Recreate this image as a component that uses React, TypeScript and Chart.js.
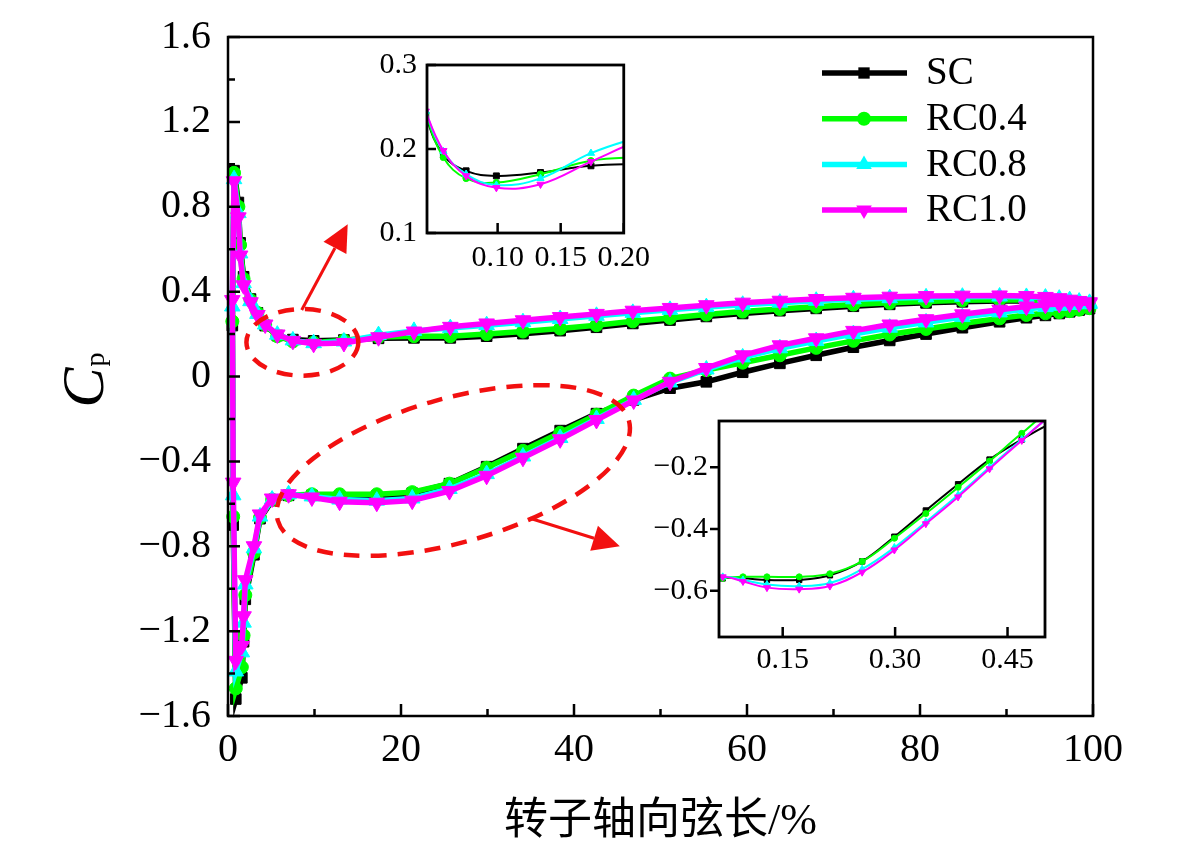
import React, { useEffect, useRef } from "react";
import { Chart, registerables } from "chart.js";

Chart.register(...registerables);

// ---------- data ----------
const seriesNames = ["SC", "RC0.4", "RC0.8", "RC1.0"];
const seriesColors = ["#000000", "#00ff00", "#00ffff", "#ff00ff"];
const pointStyles = ["rect", "circle", "triangle", "triangle"];
const pointRotations = [0, 0, 0, 180];

// chord position, % (pressure side, leading edge -> trailing edge)
const pressureX = [0.7, 1.2, 1.4, 1.8, 2.6, 3.4, 4.3, 5.7, 7.5, 9.9, 13.4, 17.4, 21.5, 25.7, 29.9, 34.1, 38.4, 42.6, 46.8, 51.1, 55.3, 59.5, 63.8, 68.0, 72.3, 76.5, 80.7, 84.9, 89.2, 92.3, 94.5, 96.1, 97.3, 98.4, 99.6];
// chord position, % (suction side, leading edge -> trailing edge)
const suctionX = [0.5, 0.6, 0.9, 1.6, 1.8, 2.0, 3.0, 3.7, 5.1, 7.0, 9.7, 12.9, 17.2, 21.3, 25.6, 29.9, 34.1, 38.4, 42.6, 46.9, 51.1, 55.3, 59.5, 63.8, 68.0, 72.3, 76.5, 80.7, 84.9, 89.2, 92.3, 94.5, 96.1, 97.3, 98.4, 99.6];

const scPressure = [0.97, 0.82, 0.63, 0.47, 0.365, 0.3, 0.24, 0.193, 0.174, 0.168, 0.172, 0.18, 0.182, 0.182, 0.19, 0.202, 0.216, 0.232, 0.25, 0.266, 0.283, 0.297, 0.31, 0.321, 0.331, 0.34, 0.347, 0.352, 0.356, 0.356, 0.353, 0.348, 0.342, 0.336, 0.33];
const rc04Pressure = [0.96, 0.8, 0.62, 0.46, 0.36, 0.3, 0.243, 0.19, 0.165, 0.16, 0.17, 0.186, 0.19, 0.19, 0.2, 0.212, 0.226, 0.242, 0.26, 0.276, 0.292, 0.306, 0.318, 0.329, 0.339, 0.347, 0.354, 0.359, 0.362, 0.361, 0.357, 0.351, 0.344, 0.337, 0.33];
const rc08Pressure = [0.93, 0.77, 0.58, 0.44, 0.355, 0.295, 0.245, 0.197, 0.17, 0.157, 0.165, 0.195, 0.215, 0.228, 0.242, 0.256, 0.271, 0.286, 0.3, 0.314, 0.327, 0.338, 0.348, 0.357, 0.364, 0.369, 0.373, 0.376, 0.377, 0.375, 0.372, 0.367, 0.36, 0.353, 0.347];
const rc10Pressure = [0.92, 0.75, 0.57, 0.43, 0.35, 0.29, 0.245, 0.198, 0.168, 0.154, 0.158, 0.185, 0.212, 0.234, 0.25, 0.265, 0.28, 0.295, 0.31, 0.323, 0.336, 0.348, 0.357, 0.365, 0.371, 0.376, 0.379, 0.381, 0.382, 0.379, 0.375, 0.369, 0.362, 0.356, 0.35];

const scSuction = [0.24, -0.7, -1.52, -1.42, -1.25, -1.05, -0.84, -0.67, -0.585, -0.56, -0.56, -0.565, -0.565, -0.55, -0.505, -0.425, -0.34, -0.255, -0.175, -0.11, -0.055, -0.025, 0.02, 0.062, 0.1, 0.138, 0.17, 0.2, 0.23, 0.258, 0.277, 0.288, 0.297, 0.305, 0.313, 0.32];
const rc04Suction = [0.26, -0.66, -1.47, -1.37, -1.22, -1.03, -0.83, -0.665, -0.58, -0.56, -0.555, -0.555, -0.555, -0.545, -0.505, -0.43, -0.35, -0.265, -0.18, -0.09, -0.01, 0.03, 0.065, 0.1, 0.135, 0.168, 0.198, 0.224, 0.25, 0.274, 0.29, 0.298, 0.303, 0.308, 0.315, 0.322];
const rc08Suction = [0.33, -0.56, -1.39, -1.3, -1.16, -0.98, -0.81, -0.66, -0.58, -0.555, -0.565, -0.58, -0.585, -0.575, -0.53, -0.46, -0.377, -0.29, -0.2, -0.11, -0.028, 0.033, 0.09, 0.133, 0.167, 0.2, 0.23, 0.255, 0.28, 0.302, 0.318, 0.327, 0.333, 0.337, 0.34, 0.342];
const rc10Suction = [0.36, -0.5, -1.34, -1.27, -1.13, -0.96, -0.8, -0.65, -0.575, -0.555, -0.57, -0.59, -0.595, -0.585, -0.54, -0.468, -0.383, -0.296, -0.205, -0.113, -0.025, 0.04, 0.1, 0.147, 0.18, 0.215, 0.245, 0.27, 0.293, 0.315, 0.33, 0.338, 0.342, 0.344, 0.345, 0.345];

const pressureCp = [scPressure, rc04Pressure, rc08Pressure, rc10Pressure];
const suctionCp = [scSuction, rc04Suction, rc08Suction, rc10Suction];

// axes
const mainXRange = [0, 100];
const mainYRange = [-1.6, 1.6];
const mainXTicks = [0, 20, 40, 60, 80, 100];
const mainYTicks = [-1.6, -1.2, -0.8, -0.4, 0, 0.4, 0.8, 1.2, 1.6];
const upperInsetXRange = [0.044, 0.2];
const upperInsetYRange = [0.1, 0.3];
const upperInsetXTicks = [0.1, 0.15, 0.2];
const upperInsetYTicks = [0.1, 0.2, 0.3];
const lowerInsetXRange = [0.065, 0.5];
const lowerInsetYRange = [-0.75, -0.05];
const lowerInsetXTicks = [0.15, 0.3, 0.45];
const lowerInsetYTicks = [-0.6, -0.4, -0.2];

// highlighted regions (data units) and arrows pointing to the insets
const upperZoomEllipse = { cx: 8.6, cy: 0.161, rx: 6.47, ry: 0.157, tilt: 0 };
const lowerZoomEllipse = { cx: 26.05, cy: -0.443, rx: 21.1, ry: 0.339, tilt: -15.9 };
const upperArrow = { x1: 8.52, y1: 0.3135, x2: 13.84, y2: 0.718 };
const lowerArrow = { x1: 34.9, y1: -0.668, x2: 45.3, y2: -0.8 };

const xTitle = "转子轴向弦长/%";

// ---------- helpers ----------
const SERIF = '"Liberation Serif", "Times New Roman", serif';

function fmt(v: number, d: number) {
  if (Math.abs(v) < 1e-9) return "0";
  return (v < 0 ? "\u2212" : "") + Math.abs(v).toFixed(d);
}

function loopPoints(i: number, unit: number) {
  const pts: { x: number; y: number }[] = [];
  for (let k = pressureX.length - 1; k >= 0; k--) pts.push({ x: pressureX[k] / unit, y: pressureCp[i][k] });
  for (let k = 0; k < suctionX.length; k++) pts.push({ x: suctionX[k] / unit, y: suctionCp[i][k] });
  return pts;
}

function drawFrameAndTicks(chart: any, o: any) {
  const { ctx, chartArea: a, scales } = chart;
  const xs = scales.x;
  const ys = scales.y;
  ctx.save();
  ctx.strokeStyle = "#000";
  ctx.lineWidth = o.tickWidth;
  ctx.setLineDash([]);
  ctx.beginPath();
  const xv = xs.ticks.map((t: any) => t.value);
  xv.forEach((v: number, i: number) => {
    const p = xs.getPixelForValue(v);
    ctx.moveTo(p, a.bottom);
    ctx.lineTo(p, a.bottom - o.xMajor);
    if (o.minor && i < xv.length - 1) {
      const q = xs.getPixelForValue((v + xv[i + 1]) / 2);
      ctx.moveTo(q, a.bottom);
      ctx.lineTo(q, a.bottom - o.xMinor);
    }
  });
  const yv = ys.ticks.map((t: any) => t.value);
  yv.forEach((v: number, i: number) => {
    const p = ys.getPixelForValue(v);
    ctx.moveTo(a.left, p);
    ctx.lineTo(a.left + o.yDir * o.yMajor, p);
    if (o.minor && i < yv.length - 1) {
      const q = ys.getPixelForValue((v + yv[i + 1]) / 2);
      ctx.moveTo(a.left, q);
      ctx.lineTo(a.left + o.yDir * o.yMinor, q);
    }
  });
  ctx.stroke();
  ctx.lineWidth = o.frameWidth;
  ctx.strokeRect(a.left, a.top, a.right - a.left, a.bottom - a.top);
  ctx.restore();
}

function drawMarker(ctx: CanvasRenderingContext2D, style: string, x: number, y: number, r: number, rotDeg: number) {
  ctx.beginPath();
  if (style === "rect") {
    const s = Math.SQRT1_2 * r;
    ctx.rect(x - s, y - s, 2 * s, 2 * s);
  } else if (style === "circle") {
    ctx.arc(x, y, r, 0, Math.PI * 2);
  } else {
    let rad = (rotDeg * Math.PI) / 180;
    ctx.moveTo(x + Math.sin(rad) * r, y - Math.cos(rad) * r);
    rad += (2 * Math.PI) / 3;
    ctx.lineTo(x + Math.sin(rad) * r, y - Math.cos(rad) * r);
    rad += (2 * Math.PI) / 3;
    ctx.lineTo(x + Math.sin(rad) * r, y - Math.cos(rad) * r);
    ctx.closePath();
  }
  ctx.fill();
}

function drawEllipse(ctx: CanvasRenderingContext2D, xs: any, ys: any, e: any) {
  const cx = xs.getPixelForValue(e.cx);
  const cy = ys.getPixelForValue(e.cy);
  const rx = Math.abs(xs.getPixelForValue(e.cx + e.rx) - cx);
  const ry = Math.abs(ys.getPixelForValue(e.cy + e.ry) - cy);
  ctx.beginPath();
  ctx.ellipse(cx, cy, rx, ry, (e.tilt * Math.PI) / 180, 0, Math.PI * 2);
  ctx.stroke();
}

function drawArrow(ctx: CanvasRenderingContext2D, xs: any, ys: any, ar: any) {
  const x1 = xs.getPixelForValue(ar.x1);
  const y1 = ys.getPixelForValue(ar.y1);
  const x2 = xs.getPixelForValue(ar.x2);
  const y2 = ys.getPixelForValue(ar.y2);
  const ang = Math.atan2(y2 - y1, x2 - x1);
  const headLen = 27;
  const headHalf = 13;
  const bx = x2 - headLen * Math.cos(ang);
  const by = y2 - headLen * Math.sin(ang);
  ctx.beginPath();
  ctx.moveTo(x1, y1);
  ctx.lineTo(bx, by);
  ctx.stroke();
  ctx.beginPath();
  ctx.moveTo(x2, y2);
  ctx.lineTo(bx + headHalf * Math.sin(ang), by - headHalf * Math.cos(ang));
  ctx.lineTo(bx - headHalf * Math.sin(ang), by + headHalf * Math.cos(ang));
  ctx.closePath();
  ctx.fill();
}

const mainDecor = {
  id: "mainDecor",
  afterDraw(chart: any) {
    drawFrameAndTicks(chart, { tickWidth: 2.5, frameWidth: 2.5, xMajor: 12, xMinor: 7, yMajor: 12, yMinor: 7, yDir: 1, minor: true });
    const { ctx, chartArea: a, scales } = chart;
    const xs = scales.x;
    const ys = scales.y;
    ctx.save();
    // red dashed zoom regions + arrows
    ctx.strokeStyle = "#f21010";
    ctx.fillStyle = "#f21010";
    ctx.lineWidth = 4.5;
    ctx.setLineDash([16, 11]);
    drawEllipse(ctx, xs, ys, upperZoomEllipse);
    drawEllipse(ctx, xs, ys, lowerZoomEllipse);
    ctx.setLineDash([]);
    ctx.lineWidth = 3;
    drawArrow(ctx, xs, ys, upperArrow);
    drawArrow(ctx, xs, ys, lowerArrow);

    // legend
    const lx1 = 822, lx2 = 907, mx = 864, tx = 926, ly0 = 73, dy = 45.7;
    const legendR = [8, 7, 9, 9];
    ctx.font = `39px ${SERIF}`;
    ctx.textBaseline = "middle";
    ctx.textAlign = "left";
    seriesNames.forEach((name, i) => {
      const y = ly0 + i * dy;
      ctx.strokeStyle = seriesColors[i];
      ctx.fillStyle = seriesColors[i];
      ctx.lineWidth = 5.5;
      ctx.beginPath();
      ctx.moveTo(lx1, y);
      ctx.lineTo(lx2, y);
      ctx.stroke();
      drawMarker(ctx, pointStyles[i], mx, y, legendR[i], pointRotations[i]);
      ctx.fillStyle = "#000";
      ctx.fillText(name, tx, y + 1);
    });

    // axis titles
    ctx.fillStyle = "#000";
    ctx.font = `44px ${SERIF}, "Noto Sans CJK SC"`;
    ctx.textAlign = "center";
    ctx.textBaseline = "middle";
    ctx.fillText(xTitle, (a.left + a.right) / 2, a.bottom + 106);

    ctx.save();
    ctx.translate(a.left - 125, (a.top + a.bottom) / 2 + 31);
    ctx.rotate(-Math.PI / 2);
    ctx.textAlign = "left";
    ctx.textBaseline = "alphabetic";
    ctx.font = `italic 60px ${SERIF}`;
    ctx.fillText("C", 0, 0);
    const w = ctx.measureText("C").width;
    ctx.font = `28px ${SERIF}`;
    ctx.fillText("p", w + 1, 1);
    ctx.restore();
    ctx.restore();
  },
};

function buildDatasets(unit: number, lineWidth: number, radii: number[], tension: number, clip: any) {
  return seriesNames.map((name, i) => ({
    label: name,
    data: loopPoints(i, unit),
    borderColor: seriesColors[i],
    backgroundColor: seriesColors[i],
    borderWidth: lineWidth,
    pointStyle: pointStyles[i],
    pointRotation: pointRotations[i],
    pointRadius: radii[i],
    pointBorderWidth: 1,
    pointBorderColor: seriesColors[i],
    pointBackgroundColor: seriesColors[i],
    tension,
    order: seriesNames.length - i,
    clip,
  }));
}

function scaleOpts(range: number[], tickVals: number[], decimals: number, fontSize: number, padding: number, fit: (s: any) => void) {
  return {
    type: "linear",
    min: range[0],
    max: range[1],
    grid: { display: false, drawTicks: false, tickLength: 0 },
    border: { display: false },
    afterBuildTicks: (s: any) => {
      s.ticks = tickVals.map((v) => ({ value: v }));
    },
    afterFit: fit,
    ticks: {
      font: { family: SERIF, size: fontSize, lineHeight: 1 },
      color: "#000",
      padding,
      autoSkip: false,
      maxRotation: 0,
      minRotation: 0,
      callback: (v: any) => fmt(Number(v), decimals),
    },
  };
}

function mainConfig(): any {
  return {
    type: "line",
    data: { datasets: buildDatasets(1, 5.5, [7.5, 6.5, 9, 9], 0, false) },
    options: {
      responsive: false,
      animation: false,
      events: [],
      layout: { padding: { left: 0, top: 22, right: 88, bottom: 0 } },
      plugins: { legend: { display: false }, tooltip: { enabled: false } },
      scales: {
        x: scaleOpts(mainXRange, mainXTicks, 0, 40, 14, (s: any) => { s.height = 131; }),
        y: scaleOpts(mainYRange, mainYTicks, 1, 40, 17, (s: any) => { s.width = 228; }),
      },
    },
    plugins: [mainDecor],
  };
}

function insetConfig(xr: number[], yr: number[], xt: number[], yt: number[], xDec: number, yDec: number,
  pad: any, yWidth: number, xHeight: number, xPad: number, yPad: number, yDir: number, radii: number[]): any {
  return {
    type: "line",
    data: { datasets: buildDatasets(100, 2, radii, 0.4, 0) },
    options: {
      responsive: false,
      animation: false,
      events: [],
      layout: { padding: pad },
      elements: { line: { capBezierPoints: false } },
      plugins: { legend: { display: false }, tooltip: { enabled: false } },
      scales: {
        x: scaleOpts(xr, xt, xDec, 30, xPad, (s: any) => { s.height = xHeight; }),
        y: scaleOpts(yr, yt, yDec, 30, yPad, (s: any) => { s.width = yWidth; }),
      },
    },
    plugins: [
      {
        id: "insetDecor",
        afterDraw(chart: any) {
          drawFrameAndTicks(chart, { tickWidth: 2.5, frameWidth: 2.8, xMajor: 10, xMinor: 0, yMajor: 9, yMinor: 0, yDir, minor: false });
        },
      },
    ],
  };
}

export default function App() {
  const mainRef = useRef<HTMLCanvasElement>(null);
  const upRef = useRef<HTMLCanvasElement>(null);
  const lowRef = useRef<HTMLCanvasElement>(null);

  useEffect(() => {
    document.body.style.margin = "0";
    const charts = [
      new Chart(mainRef.current as HTMLCanvasElement, mainConfig()),
      new Chart(
        upRef.current as HTMLCanvasElement,
        insetConfig(upperInsetXRange, upperInsetYRange, upperInsetXTicks, upperInsetYTicks, 2, 1,
          { left: 0, top: 17, right: 24, bottom: 0 }, 67, 47, 10, 10, 1, [4.2, 3.2, 4.2, 4.2])
      ),
      new Chart(
        lowRef.current as HTMLCanvasElement,
        insetConfig(lowerInsetXRange, lowerInsetYRange, lowerInsetXTicks, lowerInsetYTicks, 2, 1,
          { left: 0, top: 15, right: 15, bottom: 0 }, 79, 58, 8, 11, -1, [3.8, 3, 4, 4])
      ),
    ];
    return () => charts.forEach((c) => c.destroy());
  }, []);

  return (
    <div style={{ position: "relative", width: 1181, height: 847, background: "#fff", overflow: "hidden" }}>
      <canvas ref={mainRef} width={1181} height={847} style={{ position: "absolute", left: 0, top: 0 }} />
      <canvas ref={upRef} width={300} height={240} style={{ position: "absolute", left: 360, top: 40 }} />
      <canvas ref={lowRef} width={420} height={300} style={{ position: "absolute", left: 640, top: 395 }} />
    </div>
  );
}
